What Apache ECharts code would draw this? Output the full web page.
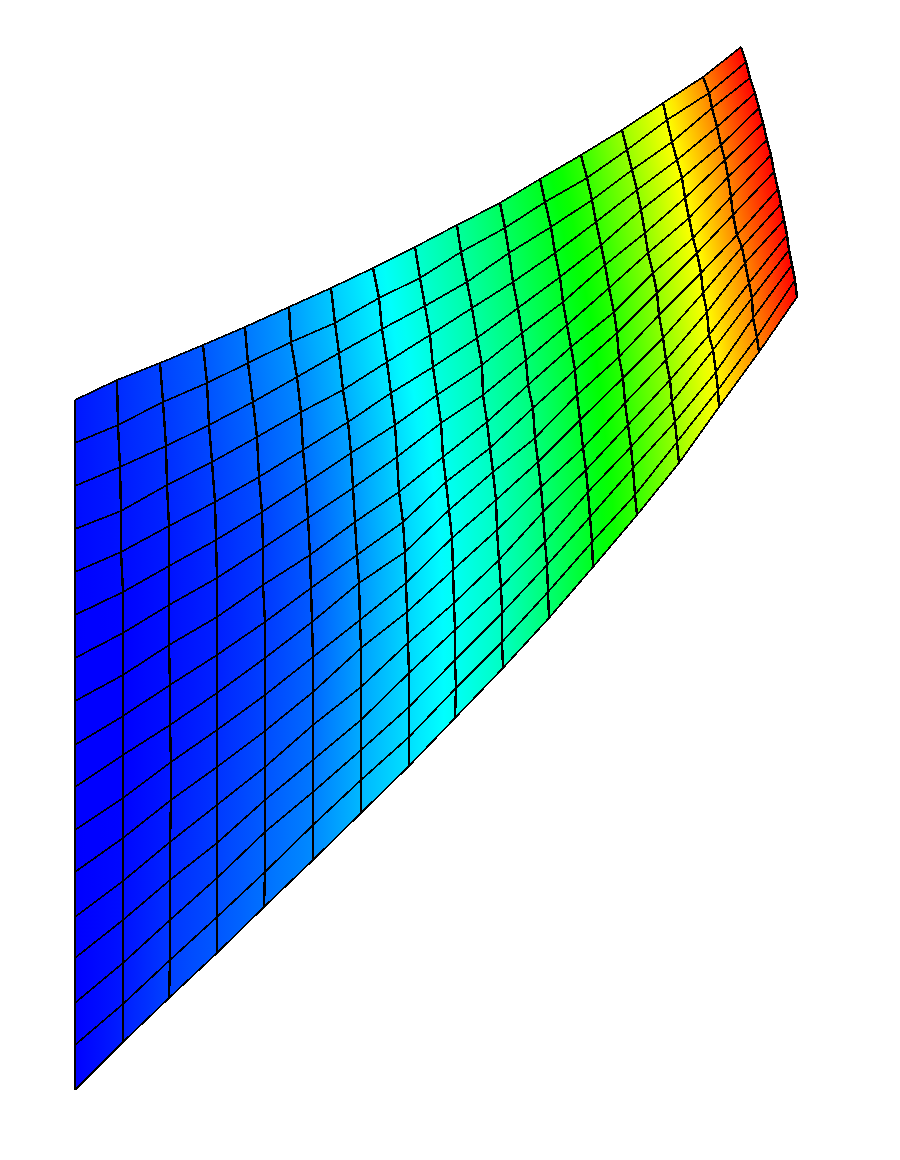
<!DOCTYPE html>
<html>
<head>
<meta charset="utf-8">
<style>
html,body{margin:0;padding:0;background:#fff}
#chart{width:900px;height:1160px}
#chart path{shape-rendering:crispEdges}
</style>
<script src="https://cdn.jsdelivr.net/npm/echarts@6/dist/echarts.min.js"></script>
</head>
<body>
<div id="chart"></div>
<script>
// Mesh nodes: one set per column line, ordered from top edge to bottom edge.
const col00X = [75,75,75,75,75,75,75,75,75,75,75,75,75,75,75,75,75];
const col00Y = [400,443,486,529,572,615,658,701,745,787,830,872,917,958,1003,1045,1090];
const col00V = [.025,.02,.015,.01,.005,0,0,0,0,0,0,0,0,0,0,0,0];
const col01X = [117,118,120,121,121,123,123,123,123,123,123,123,123,123,123,123,123];
const col01Y = [380,425,467,511,552,592,633,675,716,755,798,838,881,920,963,1004,1042];
const col01V = [.045,.04,.03,.02,.015,.005,0,0,0,0,0,.005,.01,.015,.02,.025,.035];
const col02X = [160,163,166,167,169,169,169,169,170,170,171,171,170,170,170,170,169];
const col02Y = [363,402,446,485,526,566,605,645,685,725,762,800,842,880,920,960,998];
const col02V = [.07,.06,.05,.04,.03,.02,.015,.015,.015,.015,.02,.025,.03,.04,.05,.06,.07];
const col03X = [203,207,209,212,215,216,217,217,217,217,217,217,217,217,217,217,217];
const col03Y = [345,383,425,462,502,540,578,617,655,693,730,767,805,843,878,917,953];
const col03V = [.09,.085,.075,.065,.055,.045,.035,.03,.03,.035,.04,.045,.055,.06,.07,.08,.09];
const col04X = [245,248,253,257,259,262,263,263,265,265,265,265,265,265,265,265,264];
const col04Y = [327,363,402,437,477,512,548,585,622,658,695,731,767,800,832,872,907];
const col04V = [.12,.115,.105,.095,.08,.07,.06,.055,.055,.06,.065,.07,.08,.085,.095,.105,.115];
const col05X = [289,291,297,301,303,306,308,310,311,312,313,313,313,313,313,313,313];
const col05Y = [307,342,377,412,450,483,518,555,588,622,657,692,725,760,792,825,860];
const col05V = [.155,.15,.14,.125,.115,.105,.095,.09,.085,.09,.095,.10,.105,.115,.12,.13,.14];
const col06X = [331,335,339,343,348,351,353,355,357,359,360,361,361,361,361,361,361];
const col06Y = [288,323,353,390,422,453,488,522,555,583,620,648,687,720,750,780,813];
const col06V = [.20,.195,.185,.175,.165,.155,.15,.145,.14,.145,.15,.155,.16,.165,.17,.175,.185];
const col07X = [373,379,382,387,391,395,397,399,403,405,406,407,408,409,409,409,409];
const col07Y = [268,298,329,362,393,425,457,492,522,552,583,612,643,673,707,737,766];
const col07V = [.245,.24,.235,.23,.225,.215,.21,.205,.205,.205,.205,.21,.21,.215,.215,.22,.22];
const col08X = [415,420,425,430,433,437,441,443,446,449,452,453,454,455,455,456,455];
const col08Y = [247,278,306,335,367,395,423,457,482,510,538,570,603,630,660,688,718];
const col08V = [.30,.295,.29,.285,.28,.275,.27,.265,.26,.26,.26,.26,.26,.26,.26,.26,.26];
const col09X = [457,461,467,472,477,482,483,487,490,493,496,497,499,501,502,502,503];
const col09Y = [225,252,282,308,338,365,395,422,448,472,500,530,560,587,613,642,668];
const col09V = [.35,.345,.34,.34,.335,.33,.325,.32,.315,.31,.31,.31,.31,.31,.31,.31,.31];
const col10X = [500,505,509,513,518,522,526,528,533,535,538,541,543,545,547,548,549];
const col10Y = [203,228,253,282,308,333,360,385,408,438,462,487,512,542,565,592,618];
const col10V = [.41,.41,.40,.40,.395,.39,.385,.38,.38,.38,.38,.38,.385,.385,.385,.39,.39];
const col11X = [540,545,551,555,560,563,567,571,575,577,580,583,586,588,590,592,593];
const col11Y = [179,202,227,253,277,302,325,347,370,395,420,448,470,492,517,542,567];
const col11V = [.47,.47,.47,.47,.465,.465,.46,.46,.46,.46,.46,.465,.465,.465,.47,.47,.47];
const col12X = [581,587,592,596,601,605,609,614,617,619,623,625,628,631,633,635,637];
const col12Y = [155,178,200,222,245,265,288,312,333,357,378,403,425,447,468,495,515];
const col12V = [.55,.55,.55,.55,.545,.54,.54,.54,.54,.54,.54,.545,.545,.545,.55,.55,.55];
const col13X = [622,627,632,637,641,645,648,653,657,659,663,666,670,672,675,677,679];
const col13Y = [130,150,170,190,210,233,253,273,293,315,338,360,380,402,422,442,463];
const col13V = [.65,.65,.645,.64,.64,.64,.64,.64,.64,.64,.64,.64,.645,.645,.645,.65,.65];
const col14X = [663,667,672,677,682,685,689,693,697,701,703,707,709,713,716,718,719];
const col14Y = [103,120,142,160,178,198,218,238,253,273,293,312,335,350,372,390,407];
const col14V = [.74,.745,.75,.75,.75,.75,.75,.75,.75,.75,.75,.75,.755,.755,.755,.76,.76];
const col15X = [703,709,712,717,721,725,728,731,733,737,742,745,749,752,753,757,759];
const col15Y = [77,93,108,127,145,160,177,197,215,235,247,263,283,298,318,337,352];
const col15V = [.87,.87,.87,.87,.87,.87,.87,.87,.87,.87,.87,.87,.87,.87,.87,.87,.87];
const col16X = [741,746,750,755,759,763,767,771,774,778,781,784,787,789,792,795,797];
const col16Y = [47,62,78,93,108,123,140,155,172,189,204,220,235,250,265,280,297];
const col16V = [1,1,1,1,1,1,1,1,1,1,1,1,1,1,1,1,1];

const meshX = [col00X,col01X,col02X,col03X,col04X,col05X,col06X,col07X,col08X,col09X,col10X,col11X,col12X,col13X,col14X,col15X,col16X];
const meshY = [col00Y,col01Y,col02Y,col03Y,col04Y,col05Y,col06Y,col07Y,col08Y,col09Y,col10Y,col11Y,col12Y,col13Y,col14Y,col15Y,col16Y];
const meshV = [col00V,col01V,col02V,col03V,col04V,col05V,col06V,col07V,col08V,col09V,col10V,col11V,col12V,col13V,col14V,col15V,col16V];
const nCols = meshX.length, nRows = col00X.length;

function rainbow(v){
  const t = Math.max(0,Math.min(1,v))*4, k = Math.floor(Math.min(t,3.9999)), f = t-k;
  const c = [[0,f,1],[0,1,1-f],[f,1,0],[1,1-f,0]][k];
  return 'rgb('+c.map(a=>Math.round(a*255)).join(',')+')';
}
const cells = [];
for(let i=0;i<nCols-1;i++)for(let j=0;j<nRows-1;j++)cells.push([i,j]);
const colLines = meshX.map((_,i)=>[i]);
const rowLines = col00X.map((_,j)=>[j]);

function renderCell(params,api){
  const i=api.value(0), j=api.value(1);
  const p=(a,b)=>api.coord([meshX[a][b],meshY[a][b]]);
  const a=p(i,j), b=p(i+1,j), c=p(i+1,j+1), d=p(i,j+1);
  const ul=[(a[0]+d[0])/2,(a[1]+d[1])/2], ur=[(b[0]+c[0])/2,(b[1]+c[1])/2];
  let ex=(d[0]-a[0])+(c[0]-b[0]), ey=(d[1]-a[1])+(c[1]-b[1]);
  const len=Math.hypot(ex,ey); ex/=len; ey/=len;
  const nx=ey, ny=-ex;
  const proj=(ur[0]-ul[0])*nx+(ur[1]-ul[1])*ny;
  const vl=(meshV[i][j]+meshV[i][j+1])/2, vr=(meshV[i+1][j]+meshV[i+1][j+1])/2;
  const stops=[0,.25,.5,.75,1].map(s=>({offset:s,color:rainbow(vl+(vr-vl)*s)}));
  const grad=new echarts.graphic.LinearGradient(ul[0],ul[1],ul[0]+nx*proj,ul[1]+ny*proj,stops,true);
  return {type:'polygon',shape:{points:[a,b,c,d]},style:{fill:grad,stroke:grad,lineWidth:1}};
}
function renderCol(params,api){
  const i=api.value(0);
  return {type:'polyline',shape:{points:meshX[i].map((x,k)=>api.coord([x,meshY[i][k]]))},
    style:{stroke:'#000',lineWidth:2.4,fill:null}};
}
function renderRow(params,api){
  const j=api.value(0);
  return {type:'polyline',shape:{points:meshX.map((xs,k)=>api.coord([xs[j],meshY[k][j]]))},
    style:{stroke:'#000',lineWidth:1.7,fill:null}};
}
const chart=echarts.init(document.getElementById('chart'),null,{renderer:'svg',width:900,height:1160});
chart.setOption({
  animation:false,
  backgroundColor:'#fff',
  grid:{left:0,right:0,top:0,bottom:0},
  xAxis:{type:'value',min:0,max:900,show:false},
  yAxis:{type:'value',min:0,max:1160,inverse:true,show:false},
  series:[
    {type:'custom',data:cells,renderItem:renderCell,silent:true,z:1,clip:false},
    {type:'custom',data:rowLines,renderItem:renderRow,silent:true,z:2,clip:false},
    {type:'custom',data:colLines,renderItem:renderCol,silent:true,z:3,clip:false}
  ]
});
</script>
</body>
</html>
